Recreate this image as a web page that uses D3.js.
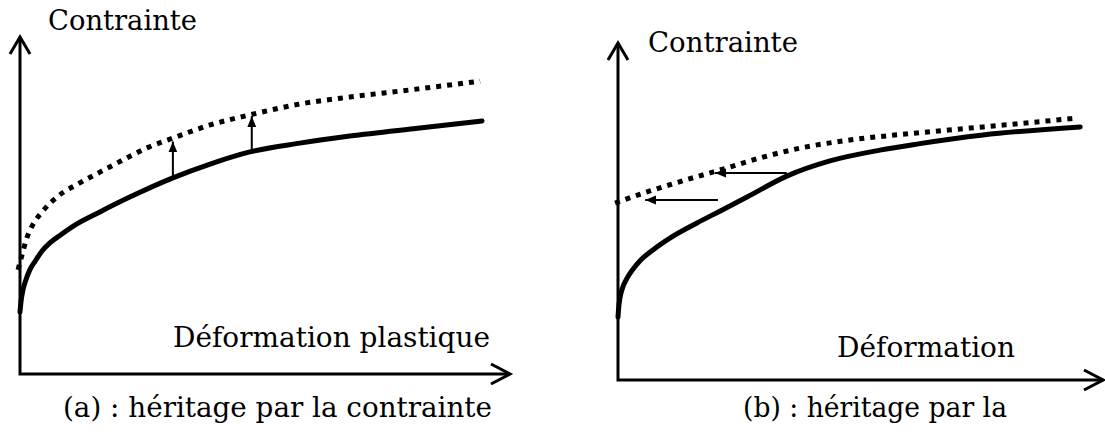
<!DOCTYPE html>
<html>
<head>
<meta charset="utf-8">
<script src="https://cdn.jsdelivr.net/npm/d3@7/dist/d3.min.js"></script>
<style>
  body { margin: 0; background: #fff; }
  text { font-family: "DejaVu Serif", serif; fill: #000; }
</style>
</head>
<body>
<svg id="chart" width="1105" height="436"></svg>
<script>
'use strict';

// strain (0-100) vs stress (0-100), arbitrary units
var solidA = [[0, 18.4], [0.2, 21.4], [0.6, 24.9], [1.2, 27.9], [2.0, 30.9], [3.1, 33.5],
    [4.5, 36.5], [6.1, 38.9], [8.2, 41.2], [11.2, 44.2], [16.3, 48.1], [22.4, 52.5],
    [31.2, 58.2], [38.8, 62.3], [46.9, 65.9], [57.1, 68.5], [67.3, 70.6], [81.6, 73.0],
    [94.3, 75.1]];
var dottedA = [[-0.4, 30.9], [0.4, 35.3], [1.4, 40.4], [2.7, 44.5], [4.5, 48.1], [7.8, 52.8],
    [12.2, 56.7], [16.3, 59.9], [21.4, 63.8], [25.9, 67.1], [31.2, 70.0], [38.8, 73.9],
    [46.9, 76.9], [57.1, 80.1], [67.3, 82.2], [79.6, 84.3], [93.9, 86.9]];
// vertical shift arrows: [x, from y, to y]
var arrowsA = [[31.2, 58.8, 69.0], [47.3, 65.9, 76.5]];

var solidB = [[0, 18.7], [0.2, 22.3], [0.4, 24.3], [1.0, 27.6], [1.9, 30.3], [3.1, 32.9],
    [4.7, 35.6], [7.2, 38.6], [10.7, 42.1], [16.3, 46.6], [21.0, 50.1], [26.6, 54.3],
    [34.8, 60.5], [43.7, 65.0], [54.0, 68.2], [61.6, 70.0], [75.3, 72.7], [95.3, 75.1]];
var dottedB = [[-0.6, 52.5], [6.6, 56.1], [13.8, 59.3], [21.0, 62.3], [29.3, 65.9],
    [37.5, 68.8], [47.8, 71.2], [61.6, 73.3], [75.3, 75.1], [94.6, 77.7]];
// horizontal shift arrows: [from x, to x, y]
var arrowsB = [[34.8, 20.0, 61.4], [20.6, 5.6, 53.4]];

var yLabels = ["Contrainte", "Contrainte"];
var xLabels = ["Déformation plastique", "Déformation"];
var captions = ["(a) : héritage par la contrainte", "(b) : héritage par la"];

var panels = [
    { left: 20, right: 510, top: 37, bottom: 374, solid: solidA, dotted: dottedA,
      vArrows: arrowsA, hArrows: [],
      yLab: { x: 48, y: 30, w: 149 }, xLab: { x: 173, y: 347, w: 317 }, cap: { x: 63, y: 417, w: 429 } },
    { left: 618, right: 1103, top: 43, bottom: 380, solid: solidB, dotted: dottedB,
      vArrows: [], hArrows: arrowsB,
      yLab: { x: 648, y: 52, w: 150 }, xLab: { x: 837, y: 357, w: 178 }, cap: { x: 743, y: 417, w: 264 } }
];

var svg = d3.select("#chart");

var defs = svg.append("defs");
defs.append("marker")
    .attr("id", "head")
    .attr("markerUnits", "userSpaceOnUse")
    .attr("markerWidth", 12)
    .attr("markerHeight", 12)
    .attr("viewBox", "0 -6 12 12")
    .attr("refX", 11)
    .attr("refY", 0)
    .attr("orient", "auto")
    .append("path")
    .attr("d", "M0,-4.5L11,0L0,4.5Z")
    .attr("fill", "#000");

panels.forEach(function (p, i) {
    var x = d3.scaleLinear().domain([0, 100]).range([p.left, p.right]);
    var y = d3.scaleLinear().domain([0, 100]).range([p.bottom, p.top]);
    var g = svg.append("g");

    // axes with open arrow heads
    g.append("path")
        .attr("d", "M" + x(0) + "," + y(100) + "L" + x(0) + "," + y(0) + "L" + x(100) + "," + y(0))
        .attr("fill", "none").attr("stroke", "#000").attr("stroke-width", 3);
    g.append("path")
        .attr("d", "M" + (x(0) - 10) + "," + (y(100) + 17) + "L" + x(0) + "," + y(100) + "L" + (x(0) + 10) + "," + (y(100) + 17))
        .attr("fill", "none").attr("stroke", "#000").attr("stroke-width", 3);
    g.append("path")
        .attr("d", "M" + (x(100) - 19) + "," + (y(0) - 10) + "L" + x(100) + "," + y(0) + "L" + (x(100) - 19) + "," + (y(0) + 10))
        .attr("fill", "none").attr("stroke", "#000").attr("stroke-width", 3);

    var line = d3.line()
        .x(function (d) { return x(d[0]); })
        .y(function (d) { return y(d[1]); })
        .curve(d3.curveMonotoneX);

    g.append("path")
        .datum(p.dotted)
        .attr("d", line)
        .attr("fill", "none")
        .attr("stroke", "#000")
        .attr("stroke-width", 5)
        .attr("stroke-dasharray", "5,6");

    g.append("path")
        .datum(p.solid)
        .attr("d", line)
        .attr("fill", "none")
        .attr("stroke", "#000")
        .attr("stroke-width", 5)
        .attr("stroke-linecap", "round");

    g.selectAll(".varrow")
        .data(p.vArrows)
        .enter().append("line")
        .attr("x1", function (d) { return x(d[0]); })
        .attr("x2", function (d) { return x(d[0]); })
        .attr("y1", function (d) { return y(d[1]); })
        .attr("y2", function (d) { return y(d[2]); })
        .attr("stroke", "#000")
        .attr("stroke-width", 2)
        .attr("marker-end", "url(#head)");

    g.selectAll(".harrow")
        .data(p.hArrows)
        .enter().append("line")
        .attr("x1", function (d) { return x(d[0]); })
        .attr("x2", function (d) { return x(d[1]); })
        .attr("y1", function (d) { return y(d[2]); })
        .attr("y2", function (d) { return y(d[2]); })
        .attr("stroke", "#000")
        .attr("stroke-width", 2)
        .attr("marker-end", "url(#head)");

    [[yLabels[i], p.yLab], [xLabels[i], p.xLab], [captions[i], p.cap]].forEach(function (t) {
        g.append("text")
            .attr("x", t[1].x)
            .attr("y", t[1].y)
            .attr("font-size", 27)
            .attr("textLength", t[1].w)
            .attr("lengthAdjust", "spacingAndGlyphs")
            .text(t[0]);
    });
});
</script>
</body>
</html>
